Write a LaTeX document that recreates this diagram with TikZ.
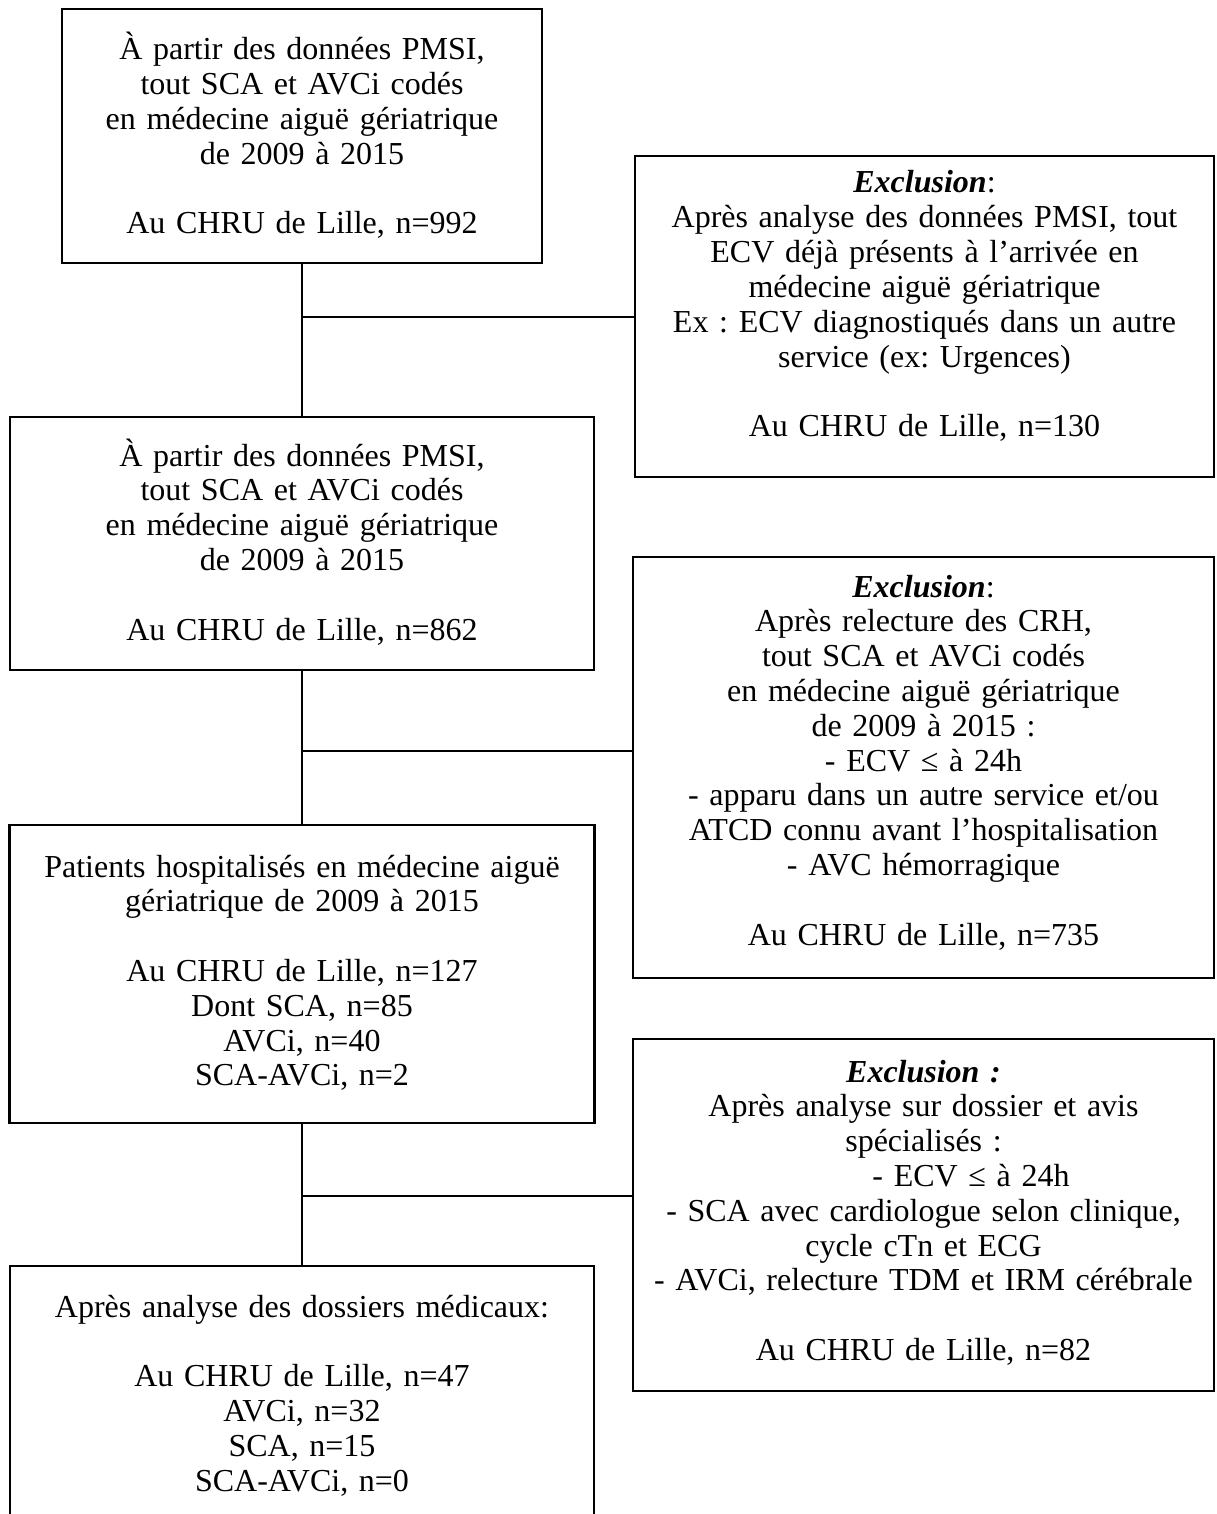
\documentclass[tikz,border=0pt]{standalone}
\usepackage{fontspec}
\setmainfont{Liberation Serif}
\frenchspacing
\begin{document}
\begin{tikzpicture}[x=0.5pt, y=-0.5pt, font=\fontsize{16}{17.4}\selectfont,
  box/.style={draw, rectangle, line width=1.1pt, inner sep=0pt, align=center, anchor=base},
  link/.style={line width=1.1pt}]

\useasboundingbox (0,0) rectangle (1216,1514);
\clip (0,0) rectangle (1216,1514);

\node [box, text width=240pt, text height=25.5pt, text depth=101.5pt] (pmsi) at (302,60)
  {À partir des données PMSI,\\ tout SCA et AVCi codés\\ en médecine aiguë gériatrique\\ de 2009 à 2015\\[17.4pt] Au CHRU de Lille, n=992};
\node [box, text width=292pt, text height=24.5pt, text depth=102pt] (pmsib) at (302,466)
  {À partir des données PMSI,\\ tout SCA et AVCi codés\\ en médecine aiguë gériatrique\\ de 2009 à 2015\\[17.4pt] Au CHRU de Lille, n=862};
\node [box, text width=292.5pt, text height=26pt, text depth=123pt] (hosp) at (302,877)
  {Patients hospitalisés en médecine aiguë\\ gériatrique de 2009 à 2015\\[17.4pt] Au CHRU de Lille, n=127\\ Dont SCA, n=85\\ AVCi, n=40\\ SCA-AVCi, n=2};
\node [box, text width=292pt, text height=25.5pt, text depth=106.5pt] (dossiers) at (302,1317)
  {Après analyse des dossiers médicaux:\\[17.4pt] Au CHRU de Lille, n=47\\ AVCi, n=32\\ SCA, n=15\\ SCA-AVCi, n=0};

\node [box, text width=289.5pt, text height=18.5pt, text depth=142pt] (exclpmsi) at (924.5,193)
  {\textbf{\textit{Exclusion}}:\\ Après analyse des données PMSI, tout\\ ECV déjà présents à l’arrivée en\\ médecine aiguë gériatrique\\ Ex : ECV diagnostiqués dans un autre\\ service (ex: Urgences)\\[17.4pt] Au CHRU de Lille, n=130};
\node [box, text width=290.5pt, text height=20pt, text depth=190.5pt] (exclcrh) at (923.5,597)
  {\textbf{\textit{Exclusion}}:\\ Après relecture des CRH,\\ tout SCA et AVCi codés\\ en médecine aiguë gériatrique\\ de 2009 à 2015 :\\ - ECV ≤ à 24h\\ - apparu dans un autre service et/ou\\ ATCD connu avant l’hospitalisation\\ - AVC hémorragique\\[17.4pt] Au CHRU de Lille, n=735};
\node [box, text width=290.5pt, text height=21.5pt, text depth=154.5pt] (excldos) at (923.5,1082)
  {\textbf{\textit{Exclusion :}}\\ Après analyse sur dossier et avis\\ spécialisés :\\ \hspace*{47.5pt}- ECV ≤ à 24h\\ - SCA avec cardiologue selon clinique,\\ cycle cTn et ECG\\ - AVCi, relecture TDM et IRM cérébrale\\[17.4pt] Au CHRU de Lille, n=82};

\coordinate (j1) at (302,317);
\coordinate (j2) at (302,751);
\coordinate (j3) at (302,1196);

\draw [link] (pmsi.south) -- (pmsib.north);
\draw [link] (pmsib.south) -- (hosp.north);
\draw [link] (hosp.south) -- (dossiers.north);
\draw [link] (j1) -- (j1 -| exclpmsi.west);
\draw [link] (j2) -- (j2 -| exclcrh.west);
\draw [link] (j3) -- (j3 -| excldos.west);

\end{tikzpicture}
\end{document}
